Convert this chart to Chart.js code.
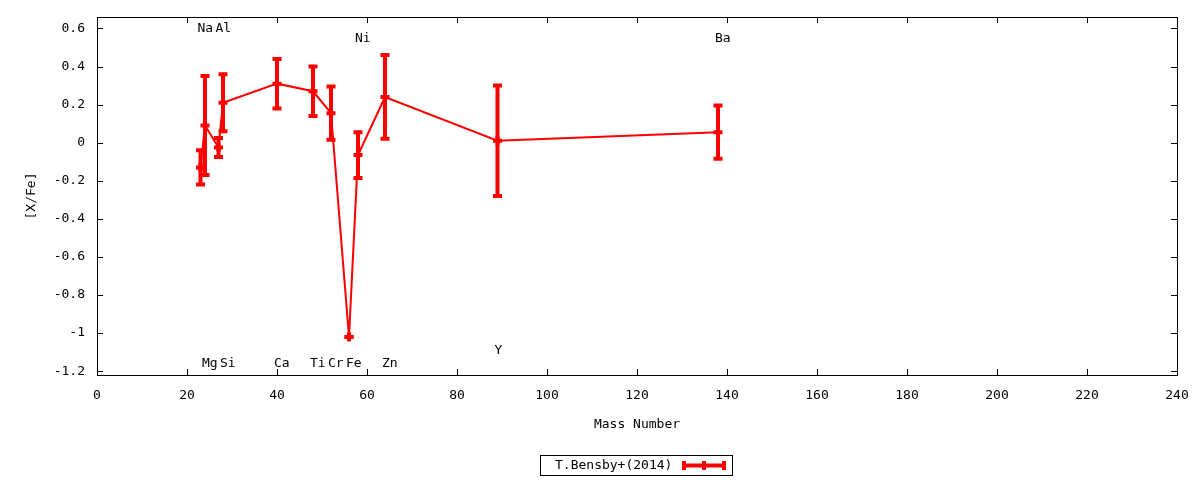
<!DOCTYPE html>
<html>
<head>
<meta charset="utf-8">
<script src="https://cdn.jsdelivr.net/npm/chart.js@4.4.1/dist/chart.umd.min.js"></script>
<style>
html, body { margin: 0; padding: 0; background: #fff; }
#wrap { width: 1200px; height: 480px; }
</style>
</head>
<body>
<div id="wrap"><canvas id="abundanceChart"></canvas></div>
<script>
const elements = ['Na', 'Mg', 'Al', 'Si', 'Ca', 'Ti', 'Cr', 'Fe', 'Ni', 'Zn', 'Y', 'Ba'];
const massNumbers = [23, 24, 27, 28, 40, 48, 52, 56, 58, 64, 89, 138];
const xFe = [-0.13, 0.09, -0.025, 0.21, 0.31, 0.27, 0.155, -1.02, -0.065, 0.24, 0.01, 0.055];
const xFeErr = [0.09, 0.26, 0.05, 0.15, 0.13, 0.13, 0.14, 0.0, 0.12, 0.22, 0.29, 0.14];
const labelY = [0.6, -1.16, 0.6, -1.16, -1.16, -1.16, -1.16, -1.16, 0.545, -1.16, -1.09, 0.545];
const xTicks = [0, 20, 40, 60, 80, 100, 120, 140, 160, 180, 200, 220, 240];
const yTicks = [-1.2, -1, -0.8, -0.6, -0.4, -0.2, 0, 0.2, 0.4, 0.6];

const RED = 'rgb(255, 0, 0)';
const FONT = { family: 'DejaVu Sans Mono', size: 13 };
const FONT_CSS = '13px "DejaVu Sans Mono"';

// error bars, drawn under the line
const errorBars = {
    id: 'errorBars',
    beforeDatasetsDraw(chart) {
        const { ctx, scales: { x, y } } = chart;
        ctx.save();
        ctx.strokeStyle = RED;
        massNumbers.forEach((m, i) => {
            const px = x.getPixelForValue(m);
            const top = y.getPixelForValue(xFe[i] + xFeErr[i]);
            const bot = y.getPixelForValue(xFe[i] - xFeErr[i]);
            ctx.lineWidth = 4;
            ctx.beginPath();
            ctx.moveTo(px, top);
            ctx.lineTo(px, bot);
            ctx.stroke();
            ctx.beginPath();
            ctx.moveTo(px - 4.5, top);
            ctx.lineTo(px + 4.5, top);
            ctx.moveTo(px - 4.5, bot);
            ctx.lineTo(px + 4.5, bot);
            ctx.stroke();
        });
        ctx.restore();
    }
};

// gnuplot-like frame, inward ticks, element labels and boxed key
const frame = {
    id: 'frame',
    afterDraw(chart) {
        const { ctx, chartArea: a, scales: { x, y } } = chart;
        ctx.save();
        ctx.strokeStyle = '#000';
        ctx.lineWidth = 1;
        ctx.strokeRect(Math.round(a.left) + 0.5, Math.round(a.top) + 0.5,
            Math.round(a.right - a.left), Math.round(a.bottom - a.top));

        ctx.beginPath();
        x.ticks.forEach(t => {
            const px = Math.round(x.getPixelForValue(t.value)) + 0.5;
            ctx.moveTo(px, a.bottom);
            ctx.lineTo(px, a.bottom - 6);
            ctx.moveTo(px, a.top);
            ctx.lineTo(px, a.top + 6);
        });
        y.ticks.forEach(t => {
            const py = Math.round(y.getPixelForValue(t.value)) + 0.5;
            ctx.moveTo(a.left, py);
            ctx.lineTo(a.left + 6, py);
            ctx.moveTo(a.right, py);
            ctx.lineTo(a.right - 6, py);
        });
        ctx.stroke();

        ctx.fillStyle = '#000';
        ctx.font = FONT_CSS;
        ctx.textAlign = 'left';
        ctx.textBaseline = 'middle';
        elements.forEach((el, i) => {
            ctx.fillText(el, x.getPixelForValue(massNumbers[i]) - 3, y.getPixelForValue(labelY[i]));
        });

        // key
        const cx = Math.round((a.left + a.right) / 2);
        const bx = cx - 97, by = 455;
        ctx.strokeRect(bx + 0.5, by + 0.5, 192, 20);
        ctx.fillText(chart.data.datasets[0].label, bx + 15, by + 11);
        ctx.strokeStyle = RED;
        ctx.lineWidth = 4;
        ctx.beginPath();
        ctx.moveTo(bx + 142, by + 10.5);
        ctx.lineTo(bx + 186, by + 10.5);
        ctx.stroke();
        ctx.beginPath();
        [bx + 144, bx + 164, bx + 184].forEach(px => {
            ctx.moveTo(px, by + 6);
            ctx.lineTo(px, by + 15);
        });
        ctx.stroke();
        ctx.restore();
    }
};

const abundanceCtx = document.getElementById('abundanceChart').getContext('2d');
new Chart(abundanceCtx, {
    type: 'scatter',
    data: {
        datasets: [{
            label: 'T.Bensby+(2014)',
            data: massNumbers.map((m, i) => ({ x: m, y: xFe[i] })),
            showLine: true,
            borderColor: RED,
            borderWidth: 2,
            pointStyle: 'cross',
            pointRadius: 4.5,
            pointBorderWidth: 4,
            pointBorderColor: RED,
            pointBackgroundColor: RED
        }]
    },
    options: {
        responsive: true,
        maintainAspectRatio: false,
        animation: false,
        devicePixelRatio: 1,
        layout: { padding: { left: 0, right: 23, top: 17, bottom: 43 } },
        plugins: {
            legend: { display: false },
            tooltip: { enabled: false }
        },
        scales: {
            x: {
                type: 'linear',
                min: 0,
                max: 240,
                afterBuildTicks: s => { s.ticks = xTicks.map(v => ({ value: v })); },
                afterFit: s => { s.height = 62; s.paddingLeft = 0; s.paddingRight = 0; },
                grid: { display: false, drawTicks: false },
                border: { display: false },
                ticks: { padding: 13, color: '#000', font: FONT, maxRotation: 0, autoSkip: false },
                title: { display: true, text: 'Mass Number', color: '#000', font: FONT, padding: { top: 0, bottom: 5 } }
            },
            y: {
                type: 'linear',
                min: -1.22,
                max: 0.66,
                afterBuildTicks: s => { s.ticks = yTicks.map(v => ({ value: v })); },
                afterFit: s => { s.width = 97; s.paddingTop = 0; s.paddingBottom = 0; },
                grid: { display: false, drawTicks: false },
                border: { display: false },
                ticks: { padding: 12, color: '#000', font: FONT, autoSkip: false, callback: v => String(+v.toFixed(1)) },
                title: { display: true, text: '[X/Fe]', color: '#000', font: FONT, padding: { top: 24, bottom: 0 } }
            }
        }
    },
    plugins: [errorBars, frame]
});
</script>
</body>
</html>
